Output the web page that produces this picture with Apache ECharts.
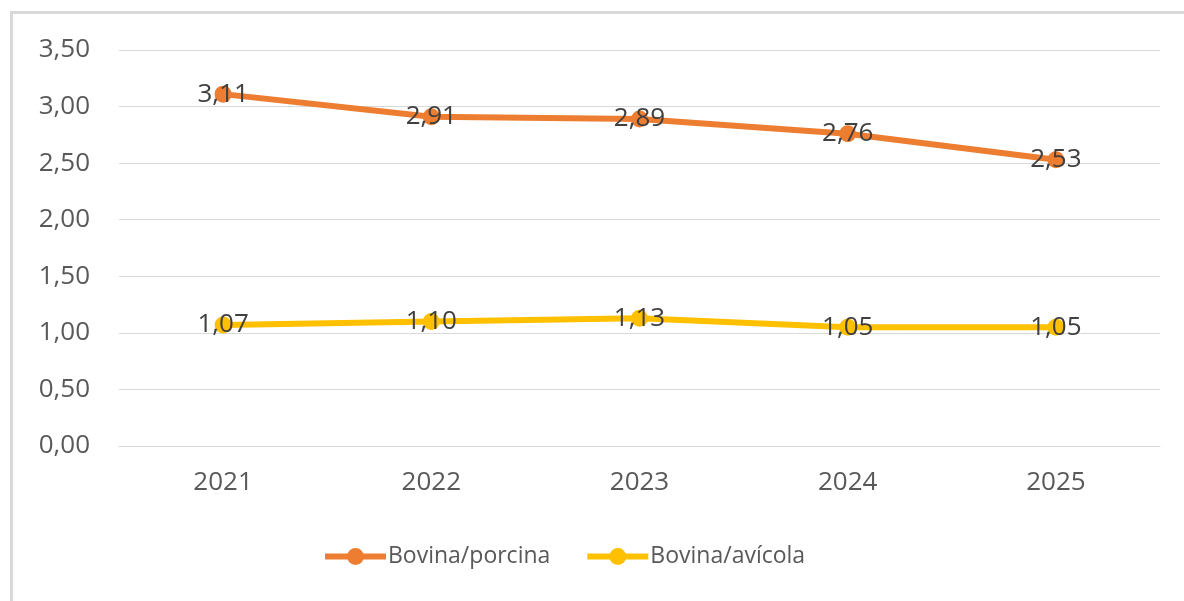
<!DOCTYPE html>
<html>
<head>
<meta charset="utf-8">
<script src="https://cdn.jsdelivr.net/npm/echarts@6/dist/echarts.min.js"></script>
<style>
  html, body { margin: 0; padding: 0; background: #fff; }
  #frame { position: absolute; left: 10px; top: 11px; width: 1300px; height: 700px;
    border-left: 3px solid #d9d9d9; border-top: 3px solid #d9d9d9; }
  #chart { position: absolute; left: 0; top: 0; width: 1184px; height: 601px; }
</style>
</head>
<body>
<div id="frame"></div>
<div id="chart"></div>
<script>
// datos
var years = ['2021', '2022', '2023', '2024', '2025'];
var porcina = [3.11, 2.91, 2.89, 2.76, 2.53];
var avicola = [1.07, 1.10, 1.13, 1.05, 1.05];

var fmt = function (v) { return Number(v).toFixed(2).replace('.', ','); };
var font = '"Open Sans", sans-serif';

var chart = echarts.init(document.getElementById('chart'));
var option = {
  animation: false,
  backgroundColor: 'transparent',
  grid: { left: 119, right: 24, top: 50, bottom: 155 },
  legend: {
    left: 317,
    top: 540,
    itemWidth: 61,
    itemHeight: 21,
    itemGap: 34,
    lineStyle: { width: 6 },
    textStyle: { color: '#595959', fontSize: 23, fontFamily: font, padding: [0, 0, 0, -3] },
    data: ['Bovina/porcina', 'Bovina/avícola']
  },
  xAxis: {
    type: 'category',
    data: years,
    axisLine: { lineStyle: { color: '#d9d9d9', width: 1 } },
    axisTick: { show: false },
    axisLabel: { color: '#595959', fontSize: 26, fontFamily: font, margin: 24 }
  },
  yAxis: {
    type: 'value',
    min: 0,
    max: 3.5,
    interval: 0.5,
    axisLine: { show: false },
    axisTick: { show: false },
    splitLine: { lineStyle: { color: '#d9d9d9', width: 1 } },
    axisLabel: { color: '#595959', fontSize: 26, fontFamily: font, margin: 29, formatter: fmt }
  },
  series: [
    {
      name: 'Bovina/porcina',
      type: 'line',
      data: porcina,
      symbol: 'circle',
      symbolSize: 17,
      lineStyle: { color: '#ED7D31', width: 6 },
      itemStyle: { color: '#ED7D31' },
      label: {
        show: true, position: 'inside', color: '#404040', fontSize: 26, fontFamily: font,
        formatter: function (p) { return fmt(p.value); }
      }
    },
    {
      name: 'Bovina/avícola',
      type: 'line',
      data: avicola,
      symbol: 'circle',
      symbolSize: 17,
      lineStyle: { color: '#FFC000', width: 6 },
      itemStyle: { color: '#FFC000' },
      label: {
        show: true, position: 'inside', color: '#404040', fontSize: 26, fontFamily: font,
        formatter: function (p) { return fmt(p.value); }
      }
    }
  ]
};
chart.setOption(option);
</script>
</body>
</html>
